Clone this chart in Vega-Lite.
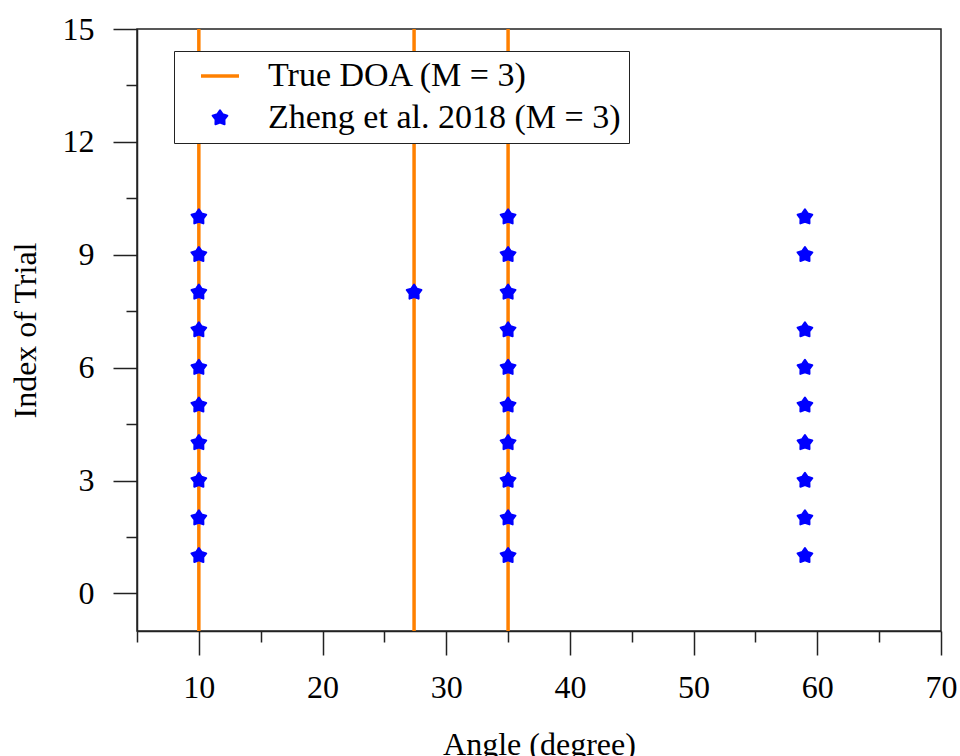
{
  "$schema": "https://vega.github.io/schema/vega-lite/v6.json",
  "width": 804,
  "height": 602,
  "autosize": {"type": "none"},
  "padding": {"left": 137, "top": 29, "right": 19, "bottom": 125},
  "background": "white",
  "config": {
    "font": "Liberation Serif",
    "view": {"stroke": "#222222", "strokeWidth": 1.5},
    "axis": {
      "grid": false,
      "domainColor": "#222222",
      "domainWidth": 1.5,
      "tickColor": "#222222",
      "tickWidth": 1.5,
      "labelFont": "Liberation Serif",
      "labelFontSize": 32,
      "labelColor": "black",
      "labelOverlap": false,
      "labelFlush": false,
      "titleFont": "Liberation Serif",
      "titleFontSize": 32,
      "titleFontWeight": "normal",
      "titleColor": "black"
    }
  },
  "datasets": {
    "doa": [
      {"angle": 10, "series": "True DOA (M = 3)"},
      {"angle": 27.4, "series": "True DOA (M = 3)"},
      {"angle": 35, "series": "True DOA (M = 3)"}
    ],
    "est": [
      {"angle": 10, "trial": 1, "series": "Zheng et al. 2018 (M = 3)"},
      {"angle": 10, "trial": 2, "series": "Zheng et al. 2018 (M = 3)"},
      {"angle": 10, "trial": 3, "series": "Zheng et al. 2018 (M = 3)"},
      {"angle": 10, "trial": 4, "series": "Zheng et al. 2018 (M = 3)"},
      {"angle": 10, "trial": 5, "series": "Zheng et al. 2018 (M = 3)"},
      {"angle": 10, "trial": 6, "series": "Zheng et al. 2018 (M = 3)"},
      {"angle": 10, "trial": 7, "series": "Zheng et al. 2018 (M = 3)"},
      {"angle": 10, "trial": 8, "series": "Zheng et al. 2018 (M = 3)"},
      {"angle": 10, "trial": 9, "series": "Zheng et al. 2018 (M = 3)"},
      {"angle": 10, "trial": 10, "series": "Zheng et al. 2018 (M = 3)"},
      {"angle": 27.4, "trial": 8, "series": "Zheng et al. 2018 (M = 3)"},
      {"angle": 35, "trial": 1, "series": "Zheng et al. 2018 (M = 3)"},
      {"angle": 35, "trial": 2, "series": "Zheng et al. 2018 (M = 3)"},
      {"angle": 35, "trial": 3, "series": "Zheng et al. 2018 (M = 3)"},
      {"angle": 35, "trial": 4, "series": "Zheng et al. 2018 (M = 3)"},
      {"angle": 35, "trial": 5, "series": "Zheng et al. 2018 (M = 3)"},
      {"angle": 35, "trial": 6, "series": "Zheng et al. 2018 (M = 3)"},
      {"angle": 35, "trial": 7, "series": "Zheng et al. 2018 (M = 3)"},
      {"angle": 35, "trial": 8, "series": "Zheng et al. 2018 (M = 3)"},
      {"angle": 35, "trial": 9, "series": "Zheng et al. 2018 (M = 3)"},
      {"angle": 35, "trial": 10, "series": "Zheng et al. 2018 (M = 3)"},
      {"angle": 59, "trial": 1, "series": "Zheng et al. 2018 (M = 3)"},
      {"angle": 59, "trial": 2, "series": "Zheng et al. 2018 (M = 3)"},
      {"angle": 59, "trial": 3, "series": "Zheng et al. 2018 (M = 3)"},
      {"angle": 59, "trial": 4, "series": "Zheng et al. 2018 (M = 3)"},
      {"angle": 59, "trial": 5, "series": "Zheng et al. 2018 (M = 3)"},
      {"angle": 59, "trial": 6, "series": "Zheng et al. 2018 (M = 3)"},
      {"angle": 59, "trial": 7, "series": "Zheng et al. 2018 (M = 3)"},
      {"angle": 59, "trial": 9, "series": "Zheng et al. 2018 (M = 3)"},
      {"angle": 59, "trial": 10, "series": "Zheng et al. 2018 (M = 3)"}
    ]
  },
  "layer": [
    {
      "data": {"name": "doa"},
      "mark": {"type": "rule", "strokeWidth": 3.5},
      "encoding": {
        "x": {
          "field": "angle",
          "type": "quantitative",
          "scale": {"domain": [5, 70], "nice": false, "zero": false},
          "axis": {
            "title": "Angle (degree)",
            "values": [5, 10, 15, 20, 25, 30, 35, 40, 45, 50, 55, 60, 65, 70],
            "labelExpr": "datum.value % 10 === 0 ? format(datum.value, 'd') : ''",
            "tickSize": {"condition": {"test": "datum.value % 10 === 0", "value": 24}, "value": 11},
            "labelPadding": 17,
            "titlePadding": 26
          }
        },
        "color": {
          "field": "series",
          "type": "nominal",
          "scale": {
            "domain": ["True DOA (M = 3)", "Zheng et al. 2018 (M = 3)"],
            "range": ["#FF8000", "#0000FF"]
          },
          "legend": {
            "orient": "none",
            "legendX": 37,
            "legendY": 22,
            "title": null,
            "strokeColor": "#222222",
            "fillColor": "white",
            "padding": 8,
            "symbolOffset": 21,
            "symbolSize": 1444,
            "rowPadding": 8,
            "labelOffset": 31,
            "labelFont": "Liberation Serif",
            "labelFontSize": 34,
            "labelColor": "black",
            "labelLimit": 0,
            "encode": {
              "symbols": {
                "update": {
                  "shape": {"signal": "datum.value === 'True DOA (M = 3)' ? 'stroke' : 'M0,-1L0.353,-0.486L0.951,-0.309L0.571,0.185L0.588,0.809L0,0.6L-0.588,0.809L-0.571,0.185L-0.951,-0.309L-0.353,-0.486Z'"},
                  "size": {"signal": "datum.value === 'True DOA (M = 3)' ? 1444 : 240"},
                  "fill": {"signal": "datum.value === 'True DOA (M = 3)' ? 'transparent' : '#0000FF'"},
                  "stroke": {"signal": "datum.value === 'True DOA (M = 3)' ? '#FF8000' : '#0000FF'"},
                  "strokeWidth": {"signal": "datum.value === 'True DOA (M = 3)' ? 3.5 : 2"},
                  "strokeJoin": {"value": "round"},
                  "opacity": {"value": 1}
                }
              }
            }
          }
        }
      }
    },
    {
      "data": {"name": "est"},
      "mark": {
        "type": "point",
        "filled": true,
        "shape": "M0,-1L0.353,-0.486L0.951,-0.309L0.571,0.185L0.588,0.809L0,0.6L-0.588,0.809L-0.571,0.185L-0.951,-0.309L-0.353,-0.486Z",
        "size": 240,
        "stroke": "#0000FF",
        "strokeWidth": 2,
        "strokeJoin": "round",
        "opacity": 1
      },
      "encoding": {
        "x": {"field": "angle", "type": "quantitative"},
        "y": {
          "field": "trial",
          "type": "quantitative",
          "scale": {"domain": [-1, 15], "nice": false, "zero": false},
          "axis": {
            "title": "Index of Trial",
            "values": [0, 1.5, 3, 4.5, 6, 7.5, 9, 10.5, 12, 13.5, 15],
            "labelExpr": "datum.value % 3 === 0 ? format(datum.value, 'd') : ''",
            "tickSize": {"condition": {"test": "datum.value % 3 === 0", "value": 24}, "value": 11},
            "labelPadding": 19,
            "titlePadding": 20
          }
        },
        "color": {"field": "series", "type": "nominal"}
      }
    }
  ]
}
